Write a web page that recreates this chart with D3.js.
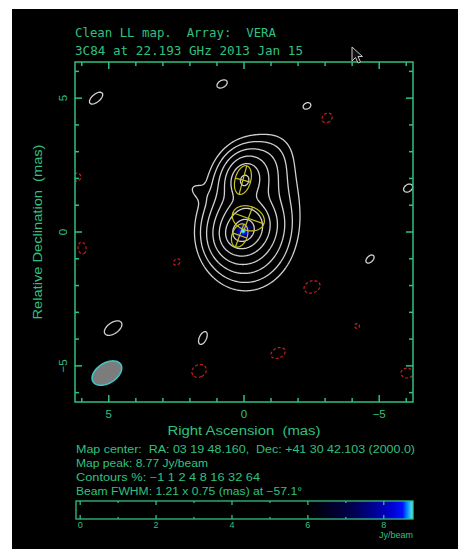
<!DOCTYPE html>
<html>
<head>
<meta charset="utf-8">
<script src="https://cdn.jsdelivr.net/npm/d3@7"></script>
<style>
  html, body { margin: 0; padding: 0; background: #fff; }
  svg { display: block; }
  svg text { white-space: pre; }
</style>
</head>
<body>
<svg id="chart" width="458" height="549"></svg>
<script>
// ---------------- data ----------------
const titleLines = ["Clean LL map.  Array:  VERA", "3C84 at 22.193 GHz 2013 Jan 15"];
const mapCenter = "Map center:  RA: 03 19 48.160,  Dec: +41 30 42.103 (2000.0)";
const mapPeak = 8.77;            // Jy/beam
const mapMin = -0.11;            // Jy/beam, lowest pixel
const contourPercents = [-1, 1, 2, 4, 8, 16, 32, 64];
const beam = { major: 1.21, minor: 0.75, pa: -57.1 };   // mas, mas, deg
const axisTicks = [5, 0, -5];                           // labelled offsets (mas)
const colorbarTicks = [0, 2, 4, 6, 8];                  // Jy/beam

// restored emission: [RA offset, Dec offset (mas), peak (Jy/beam), FWHM major, FWHM minor (mas), PA (deg)]
const sourceBlobs = [
  [ 0.05,  0.00, 4.20, 0.80, 0.70, -57],
  [ 0.02,  0.05, 2.60, 1.35, 1.20, -40],
  [-0.05, -0.05, 0.90, 2.25, 1.90,   0],
  [-0.15,  0.55, 1.00, 1.10, 0.90,  70],
  [ 0.00,  1.95, 1.60, 0.95, 0.75, -15],
  [-0.10,  2.00, 0.90, 1.50, 1.30, -20],
  [-0.40,  1.10, 0.28, 3.00, 2.20, -10],
  [-0.85,  2.60, 0.12, 1.70, 1.20, -35],
  [ 1.75,  1.55, 0.07, 0.70, 0.45,  55]
];
// residual noise peaks, same layout
const noiseBlobs = [
  [ 5.47,  5.00,  0.14, 0.72, 0.36, -50],
  [ 0.81,  5.53,  0.14, 0.50, 0.32, -60],
  [-2.33,  4.71,  0.14, 0.36, 0.27, -60],
  [-6.07,  1.64,  0.14, 0.45, 0.32, -55],
  [-4.66, -1.01,  0.14, 0.45, 0.27, -45],
  [ 4.84, -3.59,  0.14, 0.90, 0.50, -55],
  [ 1.52, -3.96,  0.14, 0.63, 0.32, -25],
  [-3.07,  4.26, -0.14, 0.50, 0.40, -50],
  [ 6.18,  2.05, -0.14, 0.36, 0.36,   0],
  [ 5.99, -0.60, -0.14, 0.54, 0.36,  10],
  [ 2.48, -1.12, -0.14, 0.36, 0.27, -50],
  [-2.51, -2.05, -0.14, 0.77, 0.55, -70],
  [-4.18, -3.51, -0.14, 0.22, 0.22,   0],
  [-1.26, -4.52, -0.14, 0.68, 0.45, -65],
  [ 1.66, -5.19, -0.14, 0.68, 0.55, -60],
  [-6.03, -5.27, -0.14, 0.45, 0.55,   0]
];
// fitted Gaussian components: [RA offset, Dec offset, FWHM major, FWHM minor (mas), PA (deg)]
const modelComponents = [
  [ 0.04, 1.94, 1.10, 0.58, -15],
  [-0.16, 0.51, 1.22, 0.90,  70],
  [ 0.16, -0.13, 0.90, 0.56, -20]
];

// ---------------- layout ----------------
const W = 458, H = 549;
const frame = { x0: 75, x1: 413, y0: 62, y1: 402 };
const GREEN = "#30c080";

const x = d3.scaleLinear().domain([6.25, -6.25]).range([frame.x0, frame.x1]);
const y = d3.scaleLinear().domain([6.35, -6.35]).range([frame.y0, frame.y1]);

const svg = d3.select("#chart");
svg.append("rect").attr("x", 12).attr("y", 9).attr("width", W - 12).attr("height", H - 9).attr("fill", "#000");

const defs = svg.append("defs");
defs.append("clipPath").attr("id", "plotClip")
  .append("rect").attr("x", frame.x0).attr("y", frame.y0)
  .attr("width", frame.x1 - frame.x0).attr("height", frame.y1 - frame.y0);

// ---------------- image grid ----------------
const pad = 12;
const nx = frame.x1 - frame.x0 + 2 * pad;
const ny = frame.y1 - frame.y0 + 2 * pad;
const gx = d3.scaleLinear().domain([0, nx]).range([x.invert(frame.x0 - pad), x.invert(frame.x0 - pad + nx)]);
const gy = d3.scaleLinear().domain([0, ny]).range([y.invert(frame.y0 - pad), y.invert(frame.y0 - pad + ny)]);

function gauss(b, mx, my) {
  const [cx, cy, amp, maj, min, pa] = b;
  const t = pa * Math.PI / 180;
  const dx = mx - cx, dy = my - cy;
  const u = dx * Math.sin(t) + dy * Math.cos(t);
  const v = dx * Math.cos(t) - dy * Math.sin(t);
  return amp * Math.exp(-4 * Math.LN2 * (u * u / (maj * maj) + v * v / (min * min)));
}

const src = new Float64Array(nx * ny);
for (let j = 0; j < ny; j++) {
  const my = gy(j + 0.5);
  for (let i = 0; i < nx; i++) {
    const mx = gx(i + 0.5);
    let s = 0;
    for (const b of sourceBlobs) s += gauss(b, mx, my);
    src[j * nx + i] = s;
  }
}
// scale emission so the brightest pixel equals the map peak, then add residuals
const srcMax = d3.max(src);
const values = new Float64Array(nx * ny);
for (let j = 0; j < ny; j++) {
  const my = gy(j + 0.5);
  for (let i = 0; i < nx; i++) {
    const mx = gx(i + 0.5);
    let s = src[j * nx + i] * mapPeak / srcMax;
    for (const b of noiseBlobs) s += gauss(b, mx, my);
    values[j * nx + i] = s;
  }
}

// ---------------- colour scale ----------------
const colour = d3.scaleLinear()
  .domain([mapMin, 6.0, 7.2, 8.2, 8.5, 8.62, mapPeak])
  .range(["#000000", "#000000", "#000050", "#0000d0", "#0010ff", "#0090ff", "#60e8ff"])
  .clamp(true);

// raster
const canvas = document.createElement("canvas");
canvas.width = nx; canvas.height = ny;
const ctx = canvas.getContext("2d");
const img = ctx.createImageData(nx, ny);
for (let k = 0; k < nx * ny; k++) {
  const v = values[k];
  const c = d3.rgb(colour(v));
  img.data[4 * k] = c.r; img.data[4 * k + 1] = c.g; img.data[4 * k + 2] = c.b;
  img.data[4 * k + 3] = v > 6.0 ? 255 : 0;
}
ctx.putImageData(img, 0, 0);

const plot = svg.append("g").attr("clip-path", "url(#plotClip)");
plot.append("image")
  .attr("x", x(gx(0))).attr("y", y(gy(0)))
  .attr("width", nx).attr("height", ny)
  .attr("href", canvas.toDataURL());

// ---------------- contours ----------------
const gridToScreen = d3.geoTransform({
  point(px, py) { this.stream.point(x(gx(px)), y(gy(py))); }
});
const contourPath = d3.geoPath(gridToScreen);

const posLevels = contourPercents.filter(p => p > 0).map(p => p / 100 * mapPeak);
const negLevels = contourPercents.filter(p => p < 0).map(p => -p / 100 * mapPeak);

const posContours = d3.contours().size([nx, ny]).thresholds(posLevels)(values);
const negContours = d3.contours().size([nx, ny]).thresholds(negLevels)(values.map(v => -v));

plot.append("g").selectAll("path").data(posContours).join("path")
  .attr("d", contourPath).attr("fill", "none")
  .attr("stroke", "#d0d0d0").attr("stroke-width", 1.3);

plot.append("g").selectAll("path").data(negContours).join("path")
  .attr("d", contourPath).attr("fill", "none")
  .attr("stroke", "#c41e1e").attr("stroke-width", 1.2).attr("stroke-dasharray", "3,2");

// ---------------- ellipses ----------------
function ellipseRing(cx, cy, maj, min, pa, n = 90) {
  const t = pa * Math.PI / 180, pts = [];
  for (let k = 0; k < n; k++) {
    const a = 2 * Math.PI * k / n;
    const u = maj / 2 * Math.cos(a), v = min / 2 * Math.sin(a);
    pts.push([x(cx + u * Math.sin(t) + v * Math.cos(t)), y(cy + u * Math.cos(t) - v * Math.sin(t))]);
  }
  return pts;
}
function axisEnd(cx, cy, len, ang, sgn) {
  const t = ang * Math.PI / 180;
  return [x(cx + sgn * len / 2 * Math.sin(t)), y(cy + sgn * len / 2 * Math.cos(t))];
}
const closed = d3.line().curve(d3.curveLinearClosed);

const comps = plot.append("g").attr("fill", "none").attr("stroke", "#c8c420").attr("stroke-width", 1.2);
modelComponents.forEach(([cx, cy, maj, min, pa]) => {
  comps.append("path").attr("d", closed(ellipseRing(cx, cy, maj, min, pa)));
  comps.append("path").attr("d", d3.line()([axisEnd(cx, cy, maj, pa, -1), axisEnd(cx, cy, maj, pa, 1)]));
  comps.append("path").attr("d", d3.line()([axisEnd(cx, cy, min, pa + 90, -1), axisEnd(cx, cy, min, pa + 90, 1)]));
});

// restoring beam, lower left corner
const beamCx = x.domain()[0] - 1.18, beamCy = y.domain()[1] + 1.08;
plot.append("path")
  .attr("d", closed(ellipseRing(beamCx, beamCy, beam.major, beam.minor, beam.pa)))
  .attr("fill", "#7c7c7c").attr("stroke", "#40c4c4").attr("stroke-width", 1.6);

// ---------------- frame and ticks ----------------
const axes = svg.append("g").attr("stroke", GREEN).attr("stroke-width", 1.5);
axes.append("rect").attr("x", frame.x0).attr("y", frame.y0)
  .attr("width", frame.x1 - frame.x0).attr("height", frame.y1 - frame.y0).attr("fill", "none");

const minorX = d3.range(-6, 7).filter(v => x(v) > frame.x0 + 1 && x(v) < frame.x1 - 1);
const minorY = d3.range(-6, 7).filter(v => y(v) > frame.y0 + 1 && y(v) < frame.y1 - 1);
const tickLen = v => (v % 5 === 0 ? 7 : 4);
minorX.forEach(v => {
  axes.append("line").attr("x1", x(v)).attr("x2", x(v)).attr("y1", frame.y1).attr("y2", frame.y1 - tickLen(v));
  axes.append("line").attr("x1", x(v)).attr("x2", x(v)).attr("y1", frame.y0).attr("y2", frame.y0 + tickLen(v));
});
minorY.forEach(v => {
  axes.append("line").attr("y1", y(v)).attr("y2", y(v)).attr("x1", frame.x0).attr("x2", frame.x0 + tickLen(v));
  axes.append("line").attr("y1", y(v)).attr("y2", y(v)).attr("x1", frame.x1).attr("x2", frame.x1 - tickLen(v));
});

const fmt = v => (v < 0 ? "\u2212" + Math.abs(v) : String(v));
const sans = "'Liberation Sans', Arial, sans-serif";

svg.append("g").selectAll("text").data(axisTicks).join("text")
  .attr("x", d => x(d)).attr("y", 418)
  .attr("text-anchor", "middle").attr("fill", GREEN)
  .attr("font-family", sans).attr("font-size", 11.5).text(fmt);

svg.append("g").selectAll("text").data(axisTicks).join("text")
  .attr("transform", d => `translate(67,${y(d)}) rotate(-90)`)
  .attr("text-anchor", "middle").attr("fill", GREEN)
  .attr("font-family", sans).attr("font-size", 11.5).text(fmt);

svg.append("text").attr("x", 244).attr("y", 435).attr("text-anchor", "middle")
  .attr("fill", GREEN).attr("font-family", sans).attr("font-size", 12)
  .attr("textLength", 153).attr("lengthAdjust", "spacingAndGlyphs")
  .text("Right Ascension  (mas)");

svg.append("text").attr("transform", "translate(42,232) rotate(-90)").attr("text-anchor", "middle")
  .attr("fill", GREEN).attr("font-family", sans).attr("font-size", 12)
  .attr("textLength", 175).attr("lengthAdjust", "spacingAndGlyphs")
  .text("Relative Declination  (mas)");

// ---------------- title ----------------
const mono = "'DejaVu Sans Mono', 'Liberation Mono', monospace";
svg.append("text").attr("x", 75).attr("y", 37).attr("fill", GREEN)
  .attr("font-family", mono).attr("font-size", 13)
  .attr("textLength", 201).attr("lengthAdjust", "spacingAndGlyphs").text(titleLines[0]);
svg.append("text").attr("x", 75).attr("y", 55).attr("fill", GREEN)
  .attr("font-family", mono).attr("font-size", 13)
  .attr("textLength", 228).attr("lengthAdjust", "spacingAndGlyphs").text(titleLines[1]);

// pointer glyph
svg.append("path")
  .attr("transform", "translate(352,47)")
  .attr("d", "M0,0 L0,14 L3.5,10.5 L6,16 L8.5,15 L6,9.5 L10.5,9.5 Z")
  .attr("fill", "#111").attr("stroke", "#c8c8c8").attr("stroke-width", 1);

// ---------------- info lines ----------------
const info = [
  [mapCenter, 339],
  [`Map peak: ${mapPeak} Jy/beam`, 132],
  [`Contours %: ${contourPercents.map(fmt).join(" ")}`, 184],
  [`Beam FWHM: ${beam.major} x ${beam.minor} (mas) at ${fmt(beam.pa)}\u00b0`, 226]
];
svg.append("g").selectAll("text").data(info).join("text")
  .attr("x", 76).attr("y", (d, i) => 453 + 14 * i)
  .attr("fill", GREEN).attr("font-family", sans).attr("font-size", 10)
  .attr("textLength", d => d[1]).attr("lengthAdjust", "spacingAndGlyphs")
  .text(d => d[0]);

// ---------------- colour bar ----------------
const cb = { x0: 76, x1: 413, y0: 501, y1: 519 };
const cbx = d3.scaleLinear().domain([mapMin, mapPeak]).range([cb.x0, cb.x1]);
const cbCanvas = document.createElement("canvas");
cbCanvas.width = cb.x1 - cb.x0; cbCanvas.height = 1;
const cbCtx = cbCanvas.getContext("2d");
for (let i = 0; i < cbCanvas.width; i++) {
  cbCtx.fillStyle = colour(cbx.invert(cb.x0 + i + 0.5));
  cbCtx.fillRect(i, 0, 1, 1);
}
svg.append("image").attr("x", cb.x0).attr("y", cb.y0)
  .attr("width", cb.x1 - cb.x0).attr("height", cb.y1 - cb.y0)
  .attr("preserveAspectRatio", "none").attr("href", cbCanvas.toDataURL());

const cbAxis = svg.append("g").attr("stroke", GREEN).attr("stroke-width", 1.3);
cbAxis.append("rect").attr("x", cb.x0).attr("y", cb.y0)
  .attr("width", cb.x1 - cb.x0).attr("height", cb.y1 - cb.y0).attr("fill", "none");
d3.range(0, 9).forEach(v => {
  const len = v % 2 === 0 ? 4 : 2;
  cbAxis.append("line").attr("x1", cbx(v)).attr("x2", cbx(v)).attr("y1", cb.y0).attr("y2", cb.y0 + len);
  cbAxis.append("line").attr("x1", cbx(v)).attr("x2", cbx(v)).attr("y1", cb.y1).attr("y2", cb.y1 - len);
});
svg.append("g").selectAll("text").data(colorbarTicks).join("text")
  .attr("x", d => cbx(d)).attr("y", 528).attr("text-anchor", "middle")
  .attr("fill", GREEN).attr("font-family", sans).attr("font-size", 9).text(d => d);
svg.append("text").attr("x", 413).attr("y", 538).attr("text-anchor", "end")
  .attr("fill", GREEN).attr("font-family", sans).attr("font-size", 9).text("Jy/beam");
</script>
</body>
</html>
